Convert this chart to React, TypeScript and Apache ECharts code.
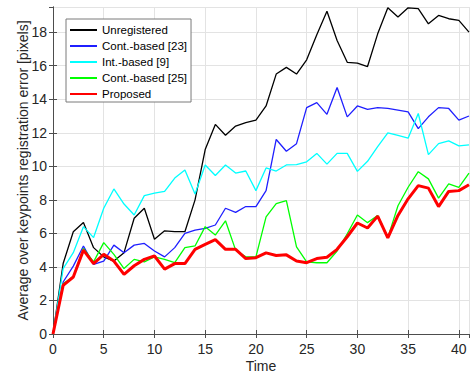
import React, { useEffect, useRef } from "react";
import * as echarts from "echarts";

const times: number[] = Array.from({ length: 42 }, (_, i) => i);

const unregistered = [0, 4.2, 6.1, 6.65, 5.15, 4.6, 4.35, 4.85, 6.9, 7.5, 5.65, 6.15, 6.1, 6.1, 8.0, 11.0, 12.5, 11.85, 12.4, 12.6, 12.75, 13.6, 15.5, 15.9, 15.5, 16.35, 17.85, 19.25, 17.5, 16.2, 16.15, 15.95, 17.9, 19.45, 18.9, 19.45, 19.4, 18.5, 19.0, 18.8, 18.7, 18.0];
const contBased23 = [0, 3.1, 4.05, 5.25, 4.15, 4.35, 5.3, 4.85, 5.3, 5.4, 4.95, 4.6, 5.15, 6.0, 6.2, 6.3, 6.5, 7.5, 7.25, 7.6, 7.6, 8.55, 11.6, 10.9, 11.35, 13.5, 13.8, 13.1, 14.7, 12.95, 13.6, 13.4, 13.5, 13.45, 13.35, 13.25, 12.25, 12.95, 13.5, 13.45, 12.75, 13.0];
const intBased9 = [0, 3.9, 4.85, 6.4, 5.75, 7.5, 8.65, 7.75, 7.1, 8.25, 8.4, 8.5, 9.3, 9.78, 8.35, 10.08, 9.45, 10.08, 9.6, 9.72, 8.55, 9.9, 9.72, 10.08, 10.1, 10.27, 10.77, 10.13, 10.77, 10.77, 9.7, 10.3, 11.18, 12.0, 11.85, 11.68, 13.15, 10.7, 11.35, 11.52, 11.22, 11.28];
const contBased25 = [0, 3.0, 3.42, 5.1, 4.3, 5.45, 4.75, 3.9, 4.45, 4.3, 4.6, 4.45, 4.25, 5.15, 5.25, 6.4, 5.9, 6.75, 5.0, 4.6, 4.6, 6.98, 7.77, 7.95, 5.2, 4.3, 4.25, 4.25, 4.95, 5.98, 7.1, 6.64, 7.07, 5.75, 7.65, 8.75, 9.68, 9.25, 8.1, 8.95, 8.75, 9.6];
const proposed = [0, 2.9, 3.4, 5.0, 4.2, 4.75, 4.35, 3.55, 4.07, 4.45, 4.65, 3.87, 4.2, 4.2, 5.05, 5.35, 5.63, 5.05, 5.05, 4.5, 4.55, 4.84, 4.68, 4.72, 4.35, 4.25, 4.5, 4.58, 5.05, 5.8, 6.62, 6.32, 7.03, 5.73, 7.07, 8.06, 8.85, 8.7, 7.6, 8.5, 8.55, 8.9];

const seriesNames = ["Unregistered", "Cont.-based [23]", "Int.-based [9]", "Cont.-based [25]", "Proposed"];
const seriesValues = [unregistered, contBased23, intBased9, contBased25, proposed];
const seriesColors = ["#000000", "#1f1fff", "#00ffff", "#00ff00", "#ff0000"];
const seriesWidths = [1.3, 1.3, 1.3, 1.3, 3];

const FONT = "'Liberation Sans', Arial, Helvetica, sans-serif";
const AXIS_COLOR = "#4d4d4d";
const TEXT_COLOR = "#262626";
const GRID_COLOR = "#e3e3e3";

export default function App() {
  const ref = useRef<HTMLDivElement>(null);

  useEffect(() => {
    if (!ref.current) return;
    const chart = echarts.init(ref.current, undefined, { renderer: "svg" });

    const baseX = {
      type: "value" as const,
      min: 0,
      max: 41,
      interval: 5,
    };
    const baseY = {
      type: "value" as const,
      min: 0,
      max: 19.5,
      interval: 2,
    };

    chart.setOption({
      animation: false,
      backgroundColor: "#ffffff",
      textStyle: { fontFamily: FONT },
      grid: { left: 53, right: 1, top: 7, bottom: 42, containLabel: false },
      legend: {
        orient: "vertical",
        left: 66,
        top: 19,
        itemWidth: 27,
        itemHeight: 16,
        itemGap: 0,
        padding: [3, 4, 0, 3],
        backgroundColor: "#ffffff",
        borderColor: "#7a7a7a",
        borderWidth: 1,
        borderRadius: 0,
        itemStyle: { opacity: 0 },
        textStyle: { fontFamily: FONT, fontSize: 11.5, lineHeight: 16, color: "#000000" },
        data: seriesNames,
      },
      xAxis: [
        {
          ...baseX,
          position: "bottom",
          name: "Time",
          nameLocation: "middle",
          nameGap: 25,
          nameMoveOverlap: false,
          nameTextStyle: { fontFamily: FONT, fontSize: 14, color: TEXT_COLOR },
          axisLine: { show: true, lineStyle: { color: AXIS_COLOR, width: 1 } },
          axisTick: { show: true, inside: true, length: 4, lineStyle: { color: AXIS_COLOR } },
          axisLabel: { show: true, margin: 8, fontFamily: FONT, fontSize: 14, color: TEXT_COLOR },
          splitLine: { show: true, lineStyle: { color: GRID_COLOR, width: 1 } },
        },
        {
          ...baseX,
          position: "top",
          axisLine: { show: true, lineStyle: { color: AXIS_COLOR, width: 1 } },
          axisTick: { show: true, inside: true, length: 4, lineStyle: { color: AXIS_COLOR } },
          axisLabel: { show: false },
          splitLine: { show: false },
        },
      ],
      yAxis: [
        {
          ...baseY,
          position: "left",
          name: "Average over keypoints registration error [pixels]",
          nameLocation: "middle",
          nameGap: 23,
          nameMoveOverlap: false,
          nameTextStyle: { fontFamily: FONT, fontSize: 14, color: TEXT_COLOR },
          axisLine: { show: true, lineStyle: { color: AXIS_COLOR, width: 1 } },
          axisTick: { show: true, inside: true, length: 4, lineStyle: { color: AXIS_COLOR } },
          axisLabel: { show: true, showMaxLabel: false, margin: 6, fontFamily: FONT, fontSize: 14, color: TEXT_COLOR },
          splitLine: { show: true, lineStyle: { color: GRID_COLOR, width: 1 } },
        },
        {
          ...baseY,
          position: "right",
          axisLine: { show: true, lineStyle: { color: AXIS_COLOR, width: 1 } },
          axisTick: { show: true, inside: true, length: 4, lineStyle: { color: AXIS_COLOR } },
          axisLabel: { show: false },
          splitLine: { show: false },
        },
      ],
      series: seriesNames.map((name, i) => ({
        name,
        type: "line",
        xAxisIndex: 0,
        yAxisIndex: 0,
        data: times.map((t, j) => [t, seriesValues[i][j]]),
        symbol: "none",
        showSymbol: false,
        clip: true,
        lineStyle: { color: seriesColors[i], width: seriesWidths[i] },
        itemStyle: { color: seriesColors[i] },
        z: 2 + i,
      })),
    });

    return () => chart.dispose();
  }, []);

  return (
    <div
      ref={ref}
      style={{ position: "absolute", left: 0, top: 0, width: 470, height: 378 }}
    />
  );
}
